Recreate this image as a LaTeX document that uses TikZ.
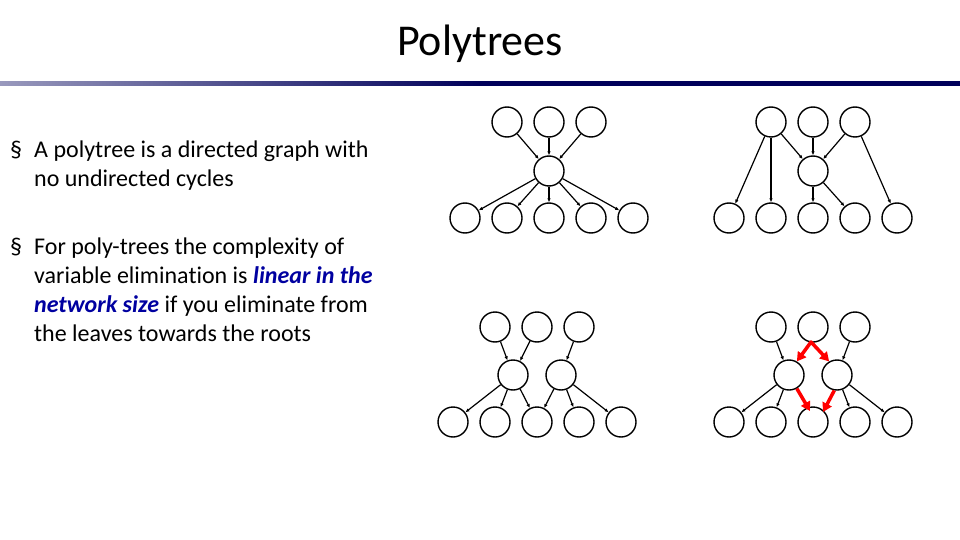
\documentclass[tikz,border=0pt]{standalone}
\usepackage{fontspec}
\setmainfont{Carlito}[RawFeature=-liga]
\usetikzlibrary{arrows.meta,calc}
\definecolor{navy}{RGB}{0,0,90}
\definecolor{kblue}{RGB}{0,0,160}
\begin{document}
\begin{tikzpicture}[x=1pt,y=-1pt,
  nd/.style={circle,draw,line width=1.4pt,minimum size=30pt,inner sep=0pt},
  ed/.style={-{Latex[length=4pt,width=3.5pt]},line width=1.2pt},
  rd/.style={{Triangle[length=9pt,width=10pt]}-{Triangle[length=9pt,width=10pt]},line width=3.5pt,red},
  rs/.style={-{Triangle[length=9pt,width=10pt]},line width=3.5pt,red},
  tx/.style={anchor=north west,align=left,font=\fontsize{24}{29}\selectfont,inner sep=0pt}]
\useasboundingbox (0,0) rectangle (960,540);
\node (title) at (480,44) {\fontsize{44}{46}\selectfont Polytrees};
\shade[left color=navy!40,right color=navy,middle color=navy] (0,82) rectangle (960,86);
\node[tx] (b1) at (10,141) {§};
\node[tx] (t1) at (34,141) {A polytree is a directed graph with\\no undirected cycles};
\node[tx] (b2) at (10,238) {§};
\node[tx] (t2) at (34,238) {For poly-trees the complexity of\\variable elimination is \textcolor{kblue}{\textbf{\textit{linear in the}}}\\\textcolor{kblue}{\textbf{\textit{network size}}} if you eliminate from\\the leaves towards the roots};
% graph A
\foreach \i/\x in {1/507,2/549,3/591} \node[nd] (a\i) at (\x,122) {};
\node[nd] (am) at (549,171) {};
\foreach \i/\x in {1/465,2/507,3/549,4/591,5/633} \node[nd] (ab\i) at (\x,218) {};
\foreach \i in {1,2,3} \draw[ed] (a\i) -- (am);
\foreach \i in {1,...,5} \draw[ed] (am) -- (ab\i);
% graph B
\foreach \i/\x in {1/771,2/813,3/855} \node[nd] (b\i) at (\x,122) {};
\node[nd] (bm) at (813,171) {};
\foreach \i/\x in {1/729,2/771,3/813,4/855,5/897} \node[nd] (bb\i) at (\x,218) {};
\draw[ed] (b1) -- (bb1); \draw[ed] (b1) -- (bb2); \draw[ed] (b1) -- (bm);
\draw[ed] (b2) -- (bm); \draw[ed] (b3) -- (bm); \draw[ed] (b3) -- (bb5);
\draw[ed] (bm) -- (bb3); \draw[ed] (bm) -- (bb4);
% graph C
\foreach \i/\x in {1/495,2/537,3/579} \node[nd] (c\i) at (\x,327) {};
\node[nd] (cm1) at (513,375) {}; \node[nd] (cm2) at (561,375) {};
\foreach \i/\x in {1/453,2/495,3/537,4/579,5/621} \node[nd] (cb\i) at (\x,422) {};
\draw[ed] (c1) -- (cm1); \draw[ed] (c2) -- (cm1); \draw[ed] (c3) -- (cm2);
\draw[ed] (cm1) -- (cb1); \draw[ed] (cm1) -- (cb2); \draw[ed] (cm1) -- (cb3);
\draw[ed] (cm2) -- (cb3); \draw[ed] (cm2) -- (cb4); \draw[ed] (cm2) -- (cb5);
% graph D
\foreach \i/\x in {1/771,2/813,3/855} \node[nd] (d\i) at (\x,327) {};
\node[nd] (dm1) at (789,375) {}; \node[nd] (dm2) at (837,375) {};
\foreach \i/\x in {1/729,2/771,3/813,4/855,5/897} \node[nd] (db\i) at (\x,422) {};
\draw[ed] (d1) -- (dm1); \draw[ed] (d3) -- (dm2);
\draw[ed] (dm1) -- (db1); \draw[ed] (dm1) -- (db2);
\draw[ed] (dm2) -- (db4); \draw[ed] (dm2) -- (db5);
\coordinate (pk) at (811,342);
\coordinate (e1) at ($(db3)+(-3,-11)$);
\coordinate (e2) at ($(db3)+(10,-10)$);
\draw[rd,line join=round] (dm1.60) -- (pk) -- (dm2.120);
\draw[rs] (dm1.-60) -- (e1);
\draw[rs] (dm2.-100) -- (e2);
\end{tikzpicture}
\end{document}
